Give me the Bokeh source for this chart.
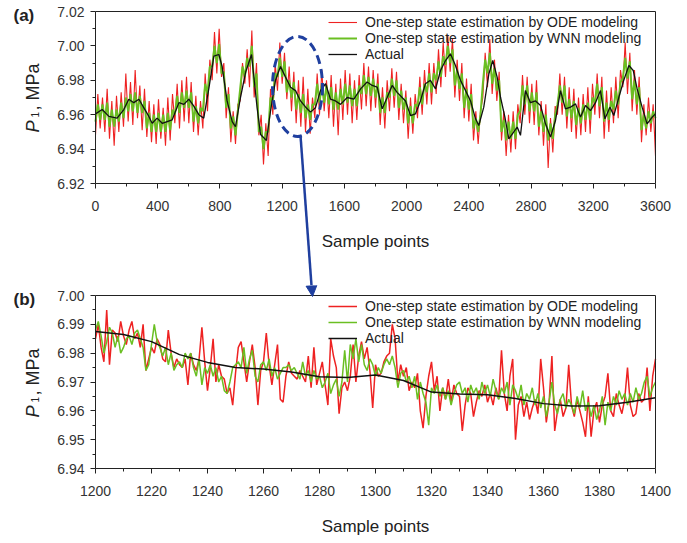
import math
from bokeh.plotting import figure
from bokeh.layouts import column
from bokeh.models import (Legend, LegendItem, FixedTicker, PrintfTickFormatter,
                          Label, Arrow, NormalHead, Range1d, LinearAxis)
from bokeh.embed import file_html
from bokeh.resources import INLINE

# ---------------- data: panel (a) ----------------
a_step = 15
a_ode = [
    6.948, 6.972, 6.952, 6.970,  6.950, 6.975, 6.946, 6.968,  6.942, 6.971, 6.950, 6.973,
    6.953, 6.984, 6.956, 6.979,  6.954, 6.986, 6.958, 6.977,  6.951, 6.975, 6.947, 6.968,
    6.944, 6.966, 6.943, 6.969,  6.946, 6.964, 6.942, 6.970,  6.945, 6.972, 6.955, 6.978,
    6.952, 6.980, 6.956, 6.982,  6.955, 6.979, 6.950, 6.971,  6.948, 6.968, 6.952, 6.984,
    6.962, 6.992, 6.980, 7.008,  6.984, 7.010, 6.982, 6.990,  6.958, 6.976, 6.944, 6.962,
    6.943, 6.966, 6.968, 6.990,  6.978, 6.998, 6.976, 7.009,  6.970, 6.990, 6.948, 6.960,
    6.931, 6.955, 6.936, 6.975,  6.960, 6.990, 6.974, 7.002,  6.978, 6.996, 6.969, 6.988,
    6.962, 6.985, 6.955, 6.980,  6.953, 6.982, 6.950, 6.975,  6.949, 6.970, 6.958, 6.984,
    6.960, 6.986, 6.962, 6.980,  6.958, 6.983, 6.953, 6.978,  6.948, 6.981, 6.957, 6.986,
    6.960, 6.984, 6.955, 6.980,  6.957, 6.983, 6.963, 6.990,  6.965, 6.988, 6.962, 6.986,
    6.964, 6.984, 6.954, 6.976,  6.952, 6.980, 6.962, 6.987,  6.964, 6.985, 6.957, 6.978,
    6.955, 6.974, 6.946, 6.970,  6.949, 6.972, 6.958, 6.982,  6.960, 6.986, 6.966, 6.990,
    6.966, 6.990, 6.972, 6.998,  6.976, 7.002, 6.982, 7.006,  6.985, 7.004, 6.970, 6.992,
    6.968, 6.990, 6.958, 6.981,  6.956, 6.978, 6.945, 6.962,  6.943, 6.962, 6.970, 6.996,
    6.976, 7.004, 6.972, 6.992,  6.968, 6.985, 6.945, 6.962,  6.936, 6.960, 6.938, 6.962,
    6.940, 6.966, 6.955, 6.983,  6.960, 6.982, 6.955, 6.978,  6.954, 6.980, 6.948, 6.968,
    6.942, 6.966, 6.929, 6.958,  6.938, 6.965, 6.960, 6.984,  6.960, 6.982, 6.952, 6.976,
    6.950, 6.975, 6.946, 6.970,  6.948, 6.972, 6.950, 6.976,  6.949, 6.978, 6.960, 6.984,
    6.958, 6.982, 6.946, 6.974,  6.950, 6.976, 6.955, 6.982,  6.958, 6.986, 6.976, 7.002,
    6.972, 6.996, 6.962, 6.986,  6.960, 6.982, 6.944, 6.966,  6.948, 6.970, 6.950, 6.966,
    6.936,
]
a_wnn = [
    6.956, 6.966, 6.957, 6.966,  6.957, 6.967, 6.953, 6.963,  6.953, 6.963, 6.956, 6.967,
    6.958, 6.970, 6.962, 6.972,  6.962, 6.973, 6.961, 6.971,  6.961, 6.968, 6.952, 6.961,
    6.950, 6.960, 6.950, 6.961,  6.950, 6.960, 6.950, 6.961,  6.951, 6.963, 6.960, 6.971,
    6.961, 6.973, 6.964, 6.974,  6.964, 6.973, 6.956, 6.965,  6.955, 6.964, 6.962, 6.978,
    6.972, 6.988, 6.988, 7.000,  6.990, 7.001, 6.984, 6.985,  6.964, 6.972, 6.952, 6.959,
    6.948, 6.962, 6.975, 6.988,  6.982, 6.993, 6.988, 7.000,  6.976, 6.984, 6.950, 6.953,
    6.940, 6.950, 6.950, 6.970,  6.968, 6.984, 6.982, 6.993,  6.982, 6.991, 6.973, 6.980,
    6.970, 6.979, 6.963, 6.972,  6.961, 6.972, 6.958, 6.966,  6.957, 6.966, 6.966, 6.978,
    6.967, 6.978, 6.967, 6.977,  6.966, 6.976, 6.963, 6.973,  6.963, 6.975, 6.966, 6.978,
    6.967, 6.977, 6.965, 6.975,  6.965, 6.977, 6.972, 6.983,  6.972, 6.982, 6.971, 6.981,
    6.970, 6.978, 6.961, 6.970,  6.961, 6.973, 6.970, 6.981,  6.971, 6.980, 6.964, 6.974,
    6.963, 6.970, 6.955, 6.965,  6.955, 6.966, 6.965, 6.976,  6.966, 6.978, 6.973, 6.984,
    6.973, 6.984, 6.980, 6.991,  6.982, 6.994, 6.989, 7.000,  6.990, 6.998, 6.977, 6.986,
    6.975, 6.984, 6.964, 6.975,  6.963, 6.972, 6.952, 6.958,  6.950, 6.960, 6.978, 6.992,
    6.984, 6.996, 6.978, 6.987,  6.974, 6.980, 6.950, 6.957,  6.945, 6.956, 6.946, 6.956,
    6.946, 6.960, 6.962, 6.977,  6.966, 6.977, 6.962, 6.973,  6.962, 6.973, 6.953, 6.962,
    6.950, 6.960, 6.945, 6.955,  6.946, 6.960, 6.966, 6.977,  6.967, 6.977, 6.959, 6.969,
    6.958, 6.968, 6.954, 6.964,  6.955, 6.966, 6.957, 6.967,  6.957, 6.970, 6.967, 6.978,
    6.965, 6.976, 6.956, 6.967,  6.957, 6.968, 6.963, 6.974,  6.966, 6.979, 6.981, 6.993,
    6.981, 6.991, 6.969, 6.980,  6.966, 6.976, 6.951, 6.960,  6.952, 6.962, 6.955, 6.962,
    6.958,
]
a_act_x = [0, 43, 86, 139, 182, 214, 246, 279, 311, 343, 364, 396, 429, 461, 493, 536,
           568, 600, 632, 664, 696, 729, 761, 793, 814, 846, 879, 900, 932, 966, 1003,
           1039, 1061, 1099, 1125, 1157, 1189, 1221, 1254, 1286, 1318, 1350, 1382, 1414,
           1446, 1479, 1511, 1543, 1575, 1618, 1661, 1704, 1746, 1779, 1811, 1843, 1875,
           1907, 1939, 1993, 2025, 2057, 2089, 2121, 2153, 2186, 2218, 2250, 2282, 2314,
           2346, 2379, 2411, 2443, 2464, 2496, 2529, 2554, 2582, 2604, 2632, 2657, 2689,
           2711, 2732, 2764, 2796, 2829, 2861, 2893, 2925, 2957, 2989, 3021, 3054, 3086,
           3118, 3150, 3182, 3214, 3246, 3275, 3307, 3332, 3364, 3396, 3429, 3457, 3482,
           3514, 3546, 3579, 3600]
a_act_y = [6.9605, 6.963, 6.959, 6.958, 6.963, 6.969, 6.967, 6.969, 6.964, 6.959, 6.955,
           6.958, 6.955, 6.956, 6.957, 6.967, 6.966, 6.969, 6.965, 6.960, 6.958, 6.9755,
           6.994, 6.995, 6.988, 6.968, 6.956, 6.953, 6.970, 6.985, 6.995, 6.964, 6.9485,
           6.945, 6.962, 6.980, 6.988, 6.982, 6.976, 6.974, 6.968, 6.9645, 6.9615, 6.964,
           6.974, 6.978, 6.969, 6.968, 6.966, 6.970, 6.969, 6.975, 6.979, 6.977, 6.976,
           6.9634, 6.970, 6.977, 6.973, 6.968, 6.9595, 6.9605, 6.968, 6.978, 6.980, 6.975,
           6.9857, 6.9915, 6.9954, 6.9886, 6.980, 6.974, 6.968, 6.9576, 6.9537, 6.9644,
           6.9838, 6.9915, 6.9818, 6.970, 6.9586, 6.946, 6.950, 6.9528, 6.948, 6.974,
           6.967, 6.968, 6.9653, 6.9547, 6.947, 6.9566, 6.974, 6.9634, 6.9644, 6.9663,
           6.9586, 6.9653, 6.9624, 6.967, 6.974, 6.9576, 6.9644, 6.9595, 6.970, 6.980,
           6.9886, 6.9857, 6.975, 6.9644, 6.9547, 6.9586, 6.9605]

# ---------------- data: panel (b) ----------------
b_start = 1200
b_ode = [
    6.985, 6.990, 6.982, 6.977, 6.995, 6.976, 6.988, 6.987, 6.984, 6.991,
    6.986, 6.983, 6.988, 6.991, 6.985, 6.987, 6.982, 6.990, 6.974, 6.978,
    6.982, 6.980, 6.985, 6.983, 6.978, 6.977, 6.988, 6.980, 6.975, 6.978,
    6.976, 6.975, 6.978, 6.969, 6.980, 6.976, 6.974, 6.978, 6.989, 6.977,
    6.967, 6.975, 6.985, 6.970, 6.976, 6.972, 6.971, 6.966, 6.968, 6.962,
    6.973, 6.982, 6.984, 6.977, 6.970, 6.977, 6.983, 6.975, 6.962, 6.974,
    6.977, 6.987, 6.976, 6.969, 6.976, 6.983, 6.964, 6.963, 6.972, 6.977,
    6.973, 6.972, 6.971, 6.974, 6.972, 6.970, 6.979, 6.968, 6.982, 6.969,
    6.973, 6.977, 6.969, 6.962, 6.985, 6.979, 6.975, 6.959, 6.968, 6.970,
    6.967, 6.972, 6.983, 6.970, 6.979, 6.984, 6.978, 6.982, 6.974, 6.961,
    6.976, 6.972, 6.973, 6.977, 6.979, 6.980, 6.990, 6.985, 6.970, 6.976,
    6.972, 6.975, 6.967, 6.970, 6.968, 6.973, 6.960, 6.954, 6.965, 6.972,
    6.977, 6.967, 6.972, 6.960, 6.968, 6.964, 6.971, 6.963, 6.969, 6.966,
    6.965, 6.953, 6.962, 6.968, 6.966, 6.958, 6.963, 6.967, 6.965, 6.969,
    6.963, 6.966, 6.962, 6.968, 6.964, 6.981, 6.966, 6.960, 6.972, 6.978,
    6.950, 6.962, 6.965, 6.958, 6.963, 6.957, 6.961, 6.964, 6.959, 6.978,
    6.968, 6.956, 6.963, 6.979, 6.953, 6.960, 6.964, 6.958, 6.961, 6.976,
    6.962, 6.958, 6.964, 6.960, 6.956, 6.951, 6.965, 6.951, 6.960, 6.963,
    6.956, 6.962, 6.965, 6.973, 6.960, 6.958, 6.966, 6.962, 6.959, 6.964,
    6.975, 6.962, 6.958, 6.959, 6.966, 6.963, 6.964, 6.975, 6.960, 6.972,
    6.978,
]
b_wnn = [
    6.988, 6.991, 6.986, 6.980, 6.984, 6.989, 6.987, 6.982, 6.986, 6.980,
    6.982, 6.985, 6.986, 6.983, 6.987, 6.988, 6.985, 6.982, 6.974, 6.976,
    6.983, 6.990, 6.984, 6.982, 6.979, 6.982, 6.976, 6.980, 6.974, 6.976,
    6.977, 6.975, 6.980, 6.978, 6.980, 6.975, 6.972, 6.978, 6.969, 6.975,
    6.973, 6.976, 6.972, 6.975, 6.970, 6.972, 6.967, 6.966, 6.970, 6.975,
    6.976, 6.977, 6.975, 6.982, 6.973, 6.978, 6.981, 6.972, 6.970, 6.976,
    6.977, 6.974, 6.978, 6.972, 6.975, 6.971, 6.973, 6.975, 6.975, 6.976,
    6.974, 6.975, 6.973, 6.971, 6.977, 6.972, 6.974, 6.970, 6.974, 6.971,
    6.972, 6.968, 6.970, 6.973, 6.966, 6.969, 6.971, 6.965, 6.970, 6.981,
    6.970, 6.983, 6.978, 6.985, 6.977, 6.983, 6.976, 6.974, 6.978, 6.976,
    6.972, 6.975, 6.973, 6.976, 6.978, 6.976, 6.979, 6.975, 6.968, 6.973,
    6.974, 6.970, 6.972, 6.968, 6.972, 6.964, 6.970, 6.966, 6.963, 6.955,
    6.968, 6.966, 6.969, 6.965, 6.968, 6.964, 6.967, 6.962, 6.966, 6.969,
    6.970, 6.966, 6.968, 6.963, 6.969, 6.966, 6.968, 6.964, 6.970, 6.966,
    6.969, 6.965, 6.971, 6.967, 6.964, 6.968, 6.966, 6.970, 6.962, 6.969,
    6.967, 6.964, 6.969, 6.962, 6.966, 6.964, 6.968, 6.962, 6.966, 6.961,
    6.965, 6.958, 6.963, 6.970, 6.962, 6.959, 6.964, 6.966, 6.961, 6.964,
    6.962, 6.959, 6.965, 6.961, 6.967, 6.960, 6.963, 6.958, 6.962, 6.957,
    6.960, 6.965, 6.955, 6.963, 6.960, 6.965, 6.962, 6.967, 6.964, 6.966,
    6.962, 6.966, 6.963, 6.968, 6.964, 6.966, 6.970, 6.972, 6.965, 6.968,
    6.970,
]
b_act_x = [1200, 1210, 1220, 1230, 1240, 1250, 1260, 1270, 1280, 1290, 1300,
           1310, 1320, 1330, 1340, 1350, 1360, 1370, 1380, 1390, 1400]
b_act_y = [6.9875, 6.9865, 6.9840, 6.9795, 6.9768, 6.9750, 6.9745, 6.9735, 6.9718,
           6.9716, 6.9724, 6.9705, 6.9665, 6.9658, 6.9656, 6.9643, 6.9625, 6.9617,
           6.9618, 6.9630, 6.9645]

a_xticks = [0, 400, 800, 1200, 1600, 2000, 2400, 2800, 3200, 3600]
a_yticks = [6.92, 6.94, 6.96, 6.98, 7.00, 7.02]
b_xticks = [1200, 1220, 1240, 1260, 1280, 1300, 1320, 1340, 1360, 1380, 1400]
b_yticks = [6.94, 6.95, 6.96, 6.97, 6.98, 6.99, 7.00]

series_labels = ["One-step state estimation by ODE modeling",
                 "One-step state estimation by WNN modeling",
                 "Actual"]
x_title = "Sample points"

assert len(a_ode) == 241 and len(a_wnn) == 241
assert len(b_ode) == 201 and len(b_wnn) == 201

a_x = [i * a_step for i in range(len(a_ode))]
b_x = [b_start + i for i in range(len(b_ode))]

# ---------------- style ----------------
FONT = "Liberation Sans"
RED = "#ee2222"
GREEN = "#6abf22"
BLACK = "#111111"
BLUE = "#1f3f9f"
AX = "#222222"
W = 687
BOX_L, BOX_R = 95, 655          # plot box, canvas pixels


def mids(t):
    return [(t[i] + t[i + 1]) / 2 for i in range(len(t) - 1)]


class Box:
    """plot box inside a canvas that is entirely frame; offsets are pixels
    from the box's bottom-left corner (y up)"""
    def __init__(self, xr, yr, top, bottom, height):
        self.xr, self.yr = xr, yr
        self.sx = (xr[1] - xr[0]) / (BOX_R - BOX_L)
        self.sy = (yr[1] - yr[0]) / (bottom - top)
        self.top, self.bottom, self.height = top, bottom, height

    def x(self, px):
        return self.xr[0] + px * self.sx

    def y(self, py):
        return self.yr[0] + py * self.sy

    def x_range(self):
        return Range1d(self.x(-BOX_L), self.x(W - BOX_L))

    def y_range(self):
        return Range1d(self.y(-(self.height - self.bottom)), self.y(self.bottom))


def make_fig(b):
    p = figure(width=W, height=b.height, x_range=b.x_range(), y_range=b.y_range(),
               output_backend="svg", toolbar_location=None,
               min_border_left=0, min_border_right=0, min_border_top=0,
               min_border_bottom=0)
    p.grid.visible = False
    p.outline_line_color = None
    p.background_fill_color = "white"
    p.border_fill_color = "white"
    return p


def style(p, b, xt, yt):
    xa, ya = p.below[0], p.left[0]
    xa.fixed_location = b.yr[0]
    ya.fixed_location = b.xr[0]
    xa.bounds = b.xr
    ya.bounds = b.yr
    xa.ticker = FixedTicker(ticks=xt, minor_ticks=mids(xt))
    ya.ticker = FixedTicker(ticks=yt, minor_ticks=mids(yt))
    xa.formatter = PrintfTickFormatter(format="%d")
    ya.formatter = PrintfTickFormatter(format="%.2f")
    for ax in (xa, ya):
        ax.axis_line_color = AX
        ax.major_tick_line_color = AX
        ax.minor_tick_line_color = AX
        ax.major_tick_out = 5
        ax.major_tick_in = 0
        ax.minor_tick_out = 3
        ax.minor_tick_in = 0
        ax.major_label_text_font = FONT
        ax.major_label_text_font_size = "14px"
        ax.major_label_text_color = "#333333"
    ya.major_label_standoff = 6
    xa.major_label_standoff = 12
    xa.axis_label = x_title
    xa.axis_label_text_font = FONT
    xa.axis_label_text_font_size = "17px"
    xa.axis_label_text_font_style = "normal"
    xa.axis_label_text_color = "#222222"
    xa.axis_label_standoff = 18
    # top and right edges of the plot box
    top = LinearAxis(fixed_location=b.yr[1], bounds=b.xr, ticker=FixedTicker(ticks=[]),
                     axis_line_color=AX, major_tick_out=0, minor_tick_out=0)
    right = LinearAxis(fixed_location=b.xr[1], bounds=b.yr, ticker=FixedTicker(ticks=[]),
                       axis_line_color=AX, major_tick_out=0, minor_tick_out=0)
    p.add_layout(top, "above")
    p.add_layout(right, "right")


def add_ylabel(p, b, tag, tag_py):
    common = dict(angle=math.pi / 2, text_font=FONT, text_color="#222222",
                  text_baseline="alphabetic", text_align="left")
    p.add_layout(Label(x=b.x(-63), y=b.y(51), text="P", text_font_size="18px",
                       text_font_style="italic", **common))
    p.add_layout(Label(x=b.x(-61), y=b.y(66), text="1", text_font_size="10px", **common))
    p.add_layout(Label(x=b.x(-63), y=b.y(73), text=", MPa", text_font_size="18px", **common))
    p.add_layout(Label(x=b.x(-82), y=b.y(tag_py), text=tag,
                       text_font=FONT, text_font_size="17px", text_font_style="bold",
                       text_color="#222222", text_baseline="middle", text_align="left"))


def add_legend(p, b, rs, rows_py):
    # one legend per row so that the row pitch can follow the reference
    canvas_bottom = b.height - b.bottom
    for l, r, py in zip(series_labels, rs, rows_py):
        lg = Legend(items=[LegendItem(label=l, renderers=[r])],
                    location=(BOX_L + 233, canvas_bottom + py),
                    background_fill_alpha=0, border_line_alpha=0, padding=0, margin=0,
                    label_standoff=8, glyph_width=29, glyph_height=14, label_height=14,
                    label_text_font=FONT, label_text_font_size="14px",
                    label_text_color="#222222")
        p.add_layout(lg)


# ---------------- panel (a) ----------------
ba = Box((0, 3600), (6.92, 7.02), top=11, bottom=183, height=285)
pa = make_fig(ba)
ra1 = pa.line(a_x, a_ode, line_color=RED, line_width=1.1)
ra2 = pa.line(a_x, a_wnn, line_color=GREEN, line_width=2)
ra3 = pa.line(a_act_x, a_act_y, line_color=BLACK, line_width=1.3)
style(pa, ba, a_xticks, a_yticks)
add_legend(pa, ba, [ra1, ra2, ra3], (153, 137, 121))
add_ylabel(pa, ba, "(a)", 168)

# zoom marker: dashed ellipse around the zoomed window and connector
ell_cx, ell_cy = ba.x(202), ba.y(97)
ell_w, ell_h = 50 * ba.sx, 100 * ba.sy
pa.ellipse(x=[ell_cx], y=[ell_cy], width=ell_w, height=ell_h, fill_alpha=0,
           line_color=BLUE, line_width=3, line_dash="9 5")
pa.add_layout(Arrow(end=None, x_start=ba.x(205), y_start=ba.y(48),
                    x_end=ba.x(216), y_end=ba.y(-(ba.height - ba.bottom)),
                    line_color=BLUE, line_width=2.5))

# ---------------- panel (b) ----------------
bb = Box((1200, 1400), (6.94, 7.00), top=10, bottom=183, height=256)
pb = make_fig(bb)
rb1 = pb.line(b_x, b_ode, line_color=RED, line_width=1.5)
rb2 = pb.line(b_x, b_wnn, line_color=GREEN, line_width=1.5)
rb3 = pb.line(b_act_x, b_act_y, line_color=BLACK, line_width=1.5)
style(pb, bb, b_xticks, b_yticks)
add_legend(pb, bb, [rb1, rb2, rb3], (154, 138, 122))
add_ylabel(pb, bb, "(b)", 169.5)
pb.add_layout(Arrow(end=NormalHead(size=11, fill_color=BLUE, line_color=BLUE, line_width=1),
                    x_start=bb.x(216), y_start=bb.y(bb.bottom),
                    x_end=bb.x(217), y_end=bb.y(bb.bottom - bb.top - 1),
                    line_color=BLUE, line_width=2.5))

layout = column(pa, pb, spacing=0)
open("out.html", "w").write(file_html(layout, INLINE))
